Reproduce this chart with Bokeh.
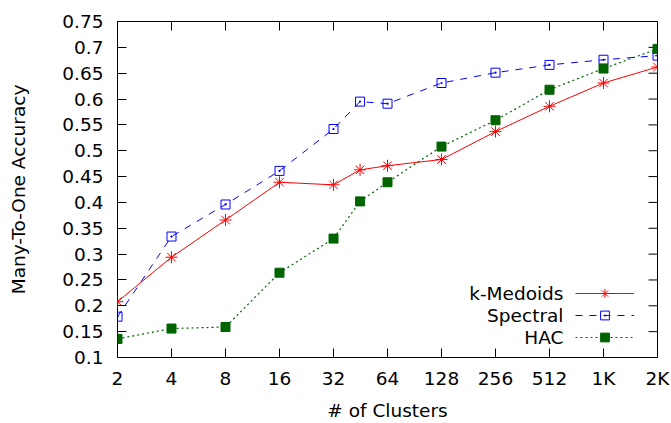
import math
from bokeh.plotting import figure
from bokeh.models import FixedTicker, Legend, LegendItem, Label
from bokeh.embed import file_html
from bokeh.resources import INLINE

clusters = [2, 4, 8, 16, 32, 45, 64, 128, 256, 512, 1024, 2048]
kmedoids = [0.208, 0.294, 0.366, 0.439, 0.434, 0.463, 0.471, 0.483, 0.537, 0.586, 0.631, 0.662]
spectral = [0.179, 0.334, 0.396, 0.461, 0.542, 0.595, 0.591, 0.631, 0.651, 0.666, 0.676, 0.684]
hac = [0.136, 0.156, 0.159, 0.264, 0.330, 0.402, 0.439, 0.508, 0.559, 0.618, 0.659, 0.697]

x_ticks = [2, 4, 8, 16, 32, 64, 128, 256, 512, 1024, 2048]
x_tick_labels = ["2", "4", "8", "16", "32", "64", "128", "256", "512", "1K", "2K"]
y_ticks = [0.1, 0.15, 0.2, 0.25, 0.3, 0.35, 0.4, 0.45, 0.5, 0.55, 0.6, 0.65, 0.7, 0.75]
y_tick_labels = ["0.1", "0.15", "0.2", "0.25", "0.3", "0.35", "0.4", "0.45", "0.5",
                 "0.55", "0.6", "0.65", "0.7", "0.75"]
series_names = ["k-Medoids", "Spectral", "HAC"]
x_title = "# of Clusters"
y_title = "Many-To-One Accuracy"

X_MIN, X_MAX = 2, 2048
Y_MIN, Y_MAX = 0.1, 0.75

FONT = "DejaVu Sans"
FS = "18.5px"

p = figure(width=671, height=423, x_axis_type="log", x_range=(X_MIN, X_MAX), y_range=(Y_MIN, Y_MAX),
           min_border_left=117, min_border_right=14, min_border_top=21, min_border_bottom=66,
           output_backend="svg", toolbar_location=None)
p.xgrid.visible = False
p.ygrid.visible = False
p.outline_line_color = "black"
p.outline_line_width = 1
p.background_fill_color = "white"
p.border_fill_color = "white"

xover = {t: l for t, l in zip(x_ticks, x_tick_labels)}
yover = {t: l for t, l in zip(y_ticks, y_tick_labels)}

for ax, ticks, over, title, lstand, tstand in [
        (p.xaxis[0], x_ticks, xover, x_title, 10, 8),
        (p.yaxis[0], y_ticks, yover, y_title, 14, 30)]:
    ax.ticker = FixedTicker(ticks=ticks)
    ax.major_label_overrides = over
    ax.axis_line_color = None
    ax.major_tick_in = 9
    ax.major_tick_out = 0
    ax.major_tick_line_color = "black"
    ax.minor_tick_line_color = None
    ax.major_label_text_font = FONT
    ax.major_label_text_font_size = FS
    ax.major_label_text_color = "black"
    ax.major_label_standoff = lstand
    ax.axis_label = title
    ax.axis_label_text_font = FONT
    ax.axis_label_text_font_size = FS
    ax.axis_label_text_font_style = "normal"
    ax.axis_label_text_color = "black"
    ax.axis_label_standoff = tstand

# mirrored inward ticks on the top and right borders (outer half clipped by the frame)
p.scatter(x_ticks, [Y_MAX] * len(x_ticks), marker="dash", size=18, angle=math.pi / 2,
          line_color="black", line_width=1)
p.scatter([X_MAX] * len(y_ticks), y_ticks, marker="dash", size=18,
          line_color="black", line_width=1)

r1l = p.line(clusters, kmedoids, line_color="#ff0000", line_width=1)
r1m = p.scatter(clusters, kmedoids, marker="asterisk", size=12, line_color="#ff0000", line_width=1)
r2l = p.line(clusters, spectral, line_color="#0000ff", line_width=1, line_dash="7 7")
r2m = p.scatter(clusters, spectral, marker="square_dot", size=9, line_color="#0000ff",
                fill_color=None, line_width=1)
r3l = p.line(clusters, hac, line_color="#006400", line_width=1.2, line_dash="2 3")
r3m = p.scatter(clusters, hac, marker="square", size=9, line_color="#006400", fill_color="#006400")

legend = Legend(items=[LegendItem(label=" ", renderers=[r1l, r1m]),
                       LegendItem(label=" ", renderers=[r2l, r2m]),
                       LegendItem(label=" ", renderers=[r3l, r3m])],
                location=(458, 9), glyph_width=59, glyph_height=22, spacing=0,
                padding=0, margin=0, label_standoff=0, label_width=1, label_height=20,
                background_fill_alpha=0, border_line_color=None, label_text_font_size="1px")
p.add_layout(legend, "center")

for name, yy in zip(series_names, [64.4, 42, 20]):
    p.add_layout(Label(x=446, y=yy, x_units="screen", y_units="screen", text=name,
                       text_align="right", text_baseline="middle", text_font=FONT,
                       text_font_size=FS, text_color="black"))

open("out.html", "w").write(file_html(p, INLINE))
